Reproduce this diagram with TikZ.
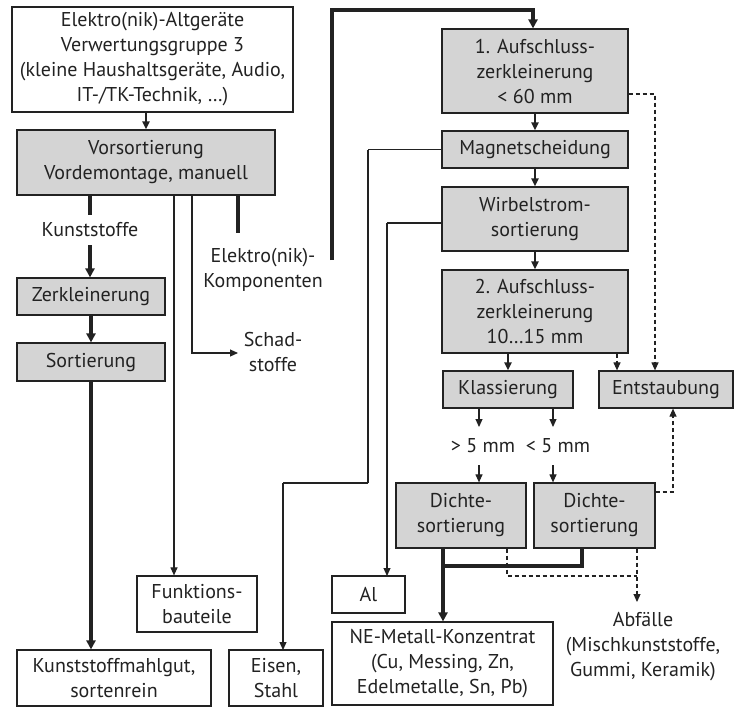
\documentclass[tikz,border=0pt]{standalone}
\usepackage{fontspec}
\setmainfont{PT Sans}
\usetikzlibrary{arrows.meta}
\definecolor{boxfill}{HTML}{D4D4D4}
\definecolor{ink}{HTML}{222222}
\begin{document}
\begin{tikzpicture}[x=1pt,y=-1pt,
  every node/.style={font=\fontsize{20}{25}\selectfont, text=ink, align=center, inner sep=0pt},
  box/.style={draw=ink, line width=1.2pt, fill=white},
  proc/.style={box, fill=boxfill},
  lbl/.style={},
  fine/.style={draw=ink, line width=1.1pt},
  mid/.style={draw=ink, line width=2pt},
  heavy/.style={draw=ink, line width=3.4pt},
  dsh/.style={draw=ink, line width=1.1pt, dash pattern=on 4pt off 3pt},
  tip/.style={-{Triangle[length=8pt,width=7pt]}},
  bigtip/.style={-{Triangle[length=9pt,width=9pt]}}
]
\useasboundingbox (0,0) rectangle (735,707);

% boxes
\node[box,  minimum width=281, minimum height=105] (alt)  at (152.5,59.5) {Elektro(nik)-Altgeräte\\Verwertungsgruppe 3\\(kleine Haushaltsgeräte, Audio,\\IT-/TK-Technik, …)};
\node[proc, minimum width=258, minimum height=65]  (vors) at (146,162.5) {Vorsortierung\\Vordemontage, manuell};
\node[proc, minimum width=148, minimum height=37]  (zerk) at (91,296.5) {Zerkleinerung};
\node[proc, minimum width=148, minimum height=38]  (sort) at (91,362) {Sortierung};
\node[box,  minimum width=194, minimum height=56]  (kmg)  at (114,678) {Kunststoffmahlgut,\\sortenrein};
\node[box,  minimum width=120, minimum height=56]  (funk) at (197,604) {Funktions-\\bauteile};
\node[box,  minimum width=94,  minimum height=56]  (eis)  at (276,678) {Eisen,\\Stahl};

\node[proc, minimum width=186, minimum height=84]  (auf1) at (535,71) {1. Aufschluss-\\zerkleinerung\\< 60 mm};
\node[proc, minimum width=186, minimum height=37]  (mag)  at (535,149.5) {Magnetscheidung};
\node[proc, minimum width=186, minimum height=64]  (wir)  at (535,219) {Wirbelstrom-\\sortierung};
\node[proc, minimum width=186, minimum height=83]  (auf2) at (535,311.5) {2. Aufschluss-\\zerkleinerung\\10…15 mm};
\node[proc, minimum width=130, minimum height=37]  (kla)  at (508,389.5) {Klassierung};
\node[proc, minimum width=134, minimum height=37]  (ent)  at (666,389.5) {Entstaubung};
\node[proc, minimum width=130, minimum height=65]  (d1)   at (461,515.5) {Dichte-\\sortierung};
\node[proc, minimum width=121, minimum height=65]  (d2)   at (594.5,515.5) {Dichte-\\sortierung};
\node[box,  minimum width=73,  minimum height=37]  (al)   at (368.5,594.5) {Al};
\node[box,  minimum width=221, minimum height=83]  (ne)   at (442.5,663.5) {NE-Metall-Konzentrat\\(Cu, Messing, Zn,\\Edelmetalle, Sn, Pb)};

% free labels
\node[lbl] (kst) at (90,230) {Kunststoffe};
\node[lbl] (ek)  at (263,270) {Elektro(nik)-\\Komponenten};
\node[lbl] (sch) at (273,352) {Schad-\\stoffe};
\node[lbl] (gt)  at (483,446) {> 5 mm};
\node[lbl] (lt)  at (558,446) {< 5 mm};
\node[lbl] (abf) at (643,647) {Abfälle\\(Mischkunststoffe,\\Gummi, Keramik)};

% helper points for the connector routes
\coordinate (ekout) at (332,260);
\coordinate (topT)  at (332,10);
\coordinate (topR)  at (533,10);
\coordinate (kstT)  at (90,215);
\coordinate (kstB)  at (90,245);
\coordinate (ekT)   at (238,233);
\coordinate (fx)    at (174,0);
\coordinate (schC)  at (192,353);
\coordinate (schW)  at (238,353);
\coordinate (m1)    at (368,149.5);
\coordinate (m2)    at (368,483);
\coordinate (m3)    at (283,483);
\coordinate (m4)    at (283,650);
\coordinate (a1)    at (442,223);
\coordinate (a2)    at (387,223);
\coordinate (a3)    at (387,576);
\coordinate (dx)    at (617,0);
\coordinate (au1C)  at (655,94);
\coordinate (gtT)   at (479,427);
\coordinate (gtB)   at (479,465);
\coordinate (ltT)   at (553,427);
\coordinate (ltB)   at (553,465);
\coordinate (d2C)   at (673,492);
\coordinate (neX)   at (443,0);
\coordinate (d2D)   at (582,566);
\coordinate (neJ)   at (443,566);
\coordinate (w1)    at (507,576);
\coordinate (w2)    at (637,576);
\coordinate (abfT)  at (637,602);

% left branch
\draw[mid, tip] (alt.south -| vors.north) -- (vors.north);
\draw[heavy] (vors.south -| kstT) -- (kstT);
\draw[heavy, bigtip] (kstB) -- (kstB |- zerk.north);
\draw[heavy, bigtip] (zerk.south) -- (sort.north);
\draw[heavy, bigtip] (sort.south) -- (sort.south |- kmg.north);
\draw[fine, tip] (vors.south -| fx) -- (funk.north -| fx);
\draw[fine, tip] (vors.south -| schC) |- (schW);
\draw[heavy] (vors.south -| ekT) -- (ekT);
\draw[heavy, bigtip] (ekout) |- (topR) -- (auf1.north -| topR);

% main line
\draw[mid, tip] (auf1.south) -- (mag.north);
\draw[mid, tip] (mag.south) -- (wir.north);
\draw[mid, tip] (wir.south) -- (auf2.north);
% ferrous fraction to Eisen, Stahl
\draw[fine] (mag.west) -- (m1);
\draw[fine] (m1) -- (m2);
\draw[fine] (m2) -- (m3);
\draw[fine, tip] (m3) -- (m4);
% aluminium fraction
\draw[fine] (a1) -- (a2);
\draw[fine, tip] (a2) -- (a3);
\draw[mid, tip] (auf2.south -| kla.north) -- (kla.north);
\draw[dsh, tip] (auf2.south -| dx) -- (ent.north -| dx);
\draw[dsh, tip] (auf1.east |- au1C) -| (ent.north -| au1C);

% classification
\draw[fine, tip] (kla.south -| gtT) -- (gtT);
\draw[fine, tip] (kla.south -| ltT) -- (ltT);
\draw[fine, tip] (gtB) -- (d1.north -| gtB);
\draw[fine, tip] (ltB) -- (d2.north -| ltB);
\draw[dsh, tip] (d2.east |- d2C) -| (ent.south -| d2C);

% products of density sorting
\draw[heavy, bigtip] (d1.south -| neX) -- (ne.north -| neX);
\draw[heavy] (d2.south -| d2D) |- (neJ);
\draw[dsh] (d1.south -| w1) |- (w2);
\draw[dsh, tip] (d2.south -| abfT) -- (abfT);
\end{tikzpicture}
\end{document}
